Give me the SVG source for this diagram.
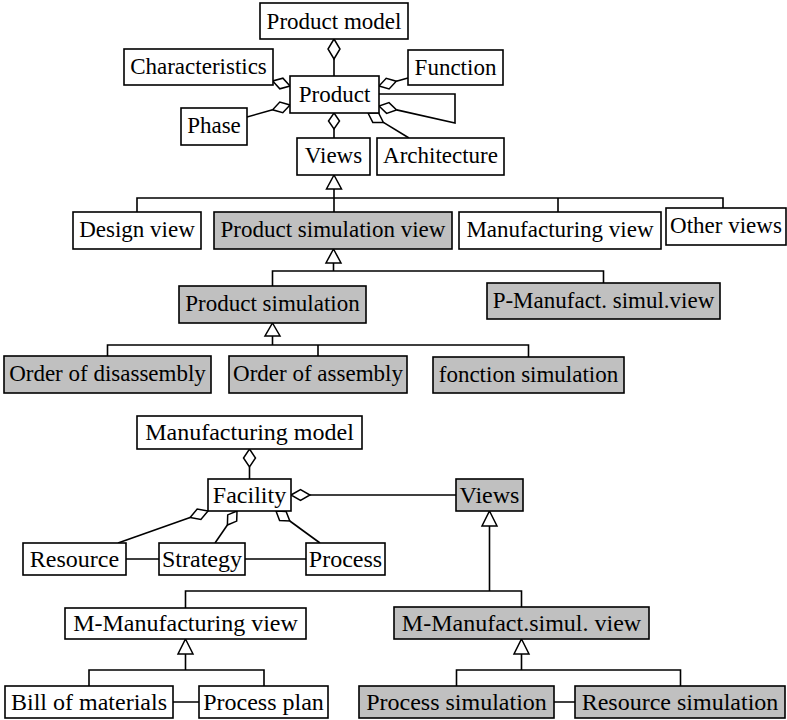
<svg xmlns="http://www.w3.org/2000/svg" width="787" height="720" viewBox="0 0 787 720">
<style>
.b{fill:#fff;stroke:#000;stroke-width:1.6}
.g{fill:#c0c0c0;stroke:#000;stroke-width:1.6}
.t{font-family:"Liberation Serif","Times New Roman",serif;font-size:23px;fill:#000;text-anchor:middle}
.t2{font-family:"Liberation Serif","Times New Roman",serif;font-size:24px;fill:#000;text-anchor:middle}
.l{fill:none;stroke:#000;stroke-width:1.6}
.d{fill:#fff;stroke:#000;stroke-width:1.5}
</style>
<rect width="787" height="720" fill="#fff"/>
<g id="connectors">
  <!-- top aggregation -->
  <path class="l" d="M334,59 V76"/>
  <polygon class="d" points="334,39 340,49 334,59 328,49"/>
  <polygon class="d" points="290,86 282.9,78.2 272.7,80.9 279.8,88.8"/>
  <path class="l" d="M272.6,109.8 L247,117"/>
  <polygon class="d" points="290,105 282.8,112.7 272.6,109.8 279.8,102.1"/>
  <path class="l" d="M396.3,81.2 L408,78"/>
  <polygon class="d" points="379,86 389.1,88.9 396.3,81.2 386.2,78.3"/>
  <path class="l" d="M379,94 H455 V123 L396.6,109.9"/>
  <polygon class="d" points="379,106 386.6,113.4 396.6,109.9 389,102.6"/>
  <path class="l" d="M383.4,122.4 L409,138"/>
  <polygon class="d" points="368,113 372.8,122.4 383.4,122.4 378.6,113"/>
  <path class="l" d="M334,129 V138"/>
  <polygon class="d" points="334,113 339.5,121 334,129 328.5,121"/>
  <!-- top generalization -->
  <path class="l" d="M334,189 V212 M137,212 V198 H723 V208 M558,198 V212"/>
  <polygon class="d" points="334,175 341.5,189 326.5,189"/>
  <path class="l" d="M333.5,263 V271 M272.5,286 V271 H603.5 V283"/>
  <polygon class="d" points="333.5,249 341,263 326,263"/>
  <path class="l" d="M272.5,336 V345 M107.5,356 V345 H528.5 V357 M318,345 V356"/>
  <polygon class="d" points="272.5,323 280,336 265,336"/>
  <!-- bottom aggregation -->
  <path class="l" d="M249.5,467 V479"/>
  <polygon class="d" points="249.5,449 255.5,458 249.5,467 243.5,458"/>
  <path class="l" d="M310,495 H456"/>
  <polygon class="d" points="291,495 300.5,489.5 310,495 300.5,500.5"/>
  <path class="l" d="M190.1,517.4 L118,543"/>
  <polygon class="d" points="208,511 200.9,519.4 190.1,517.4 197.2,509"/>
  <path class="l" d="M227.4,525 L215,543"/>
  <polygon class="d" points="237,511 236.7,521.1 227.4,525 227.7,514.9"/>
  <path class="l" d="M289.8,521 L320,543"/>
  <polygon class="d" points="276,511 279.6,520.5 289.8,521 286.1,511.5"/>
  <path class="l" d="M126,559 H159 M245,559 H306"/>
  <!-- bottom generalization -->
  <path class="l" d="M489.5,526 V591 M185.5,608 V591 H521.5 V607"/>
  <polygon class="d" points="489.5,511 497,526 482,526"/>
  <path class="l" d="M185.5,654 V670 M89,686 V670 H264 V686"/>
  <polygon class="d" points="185.5,639 193,654 178,654"/>
  <path class="l" d="M521.5,654 V670 M456.5,686 V670 H680.5 V686"/>
  <polygon class="d" points="521.5,639 529,654 514,654"/>
  <path class="l" d="M173,702 H199 M554,702 H575"/>
</g>
<g id="product-model"><rect class="b" x="260" y="3" width="148" height="36"/><text class="t" x="334" y="28.5">Product model</text></g>
<g id="characteristics"><rect class="b" x="124" y="49" width="149" height="36"/><text class="t" x="198.5" y="74">Characteristics</text></g>
<g id="function"><rect class="b" x="408" y="50" width="95" height="35"/><text class="t" x="455.5" y="74.5">Function</text></g>
<g id="product"><rect class="b" x="290" y="76" width="89" height="37"/><text class="t" x="334.5" y="101.5">Product</text></g>
<g id="phase"><rect class="b" x="181" y="108" width="66" height="37"/><text class="t" x="214" y="132.5">Phase</text></g>
<g id="views"><rect class="b" x="297" y="138" width="73" height="37"/><text class="t" x="333.5" y="162.5">Views</text></g>
<g id="architecture"><rect class="b" x="377" y="138" width="127" height="37"/><text class="t" x="440.5" y="162.5">Architecture</text></g>
<g id="design-view"><rect class="b" x="73" y="212" width="128" height="37"/><text class="t" x="137" y="237">Design view</text></g>
<g id="product-simulation-view"><rect class="g" x="214" y="212" width="238" height="37"/><text class="t" x="333" y="237">Product simulation view</text></g>
<g id="manufacturing-view"><rect class="b" x="459" y="212" width="202" height="37"/><text class="t" x="560" y="237">Manufacturing view</text></g>
<g id="other-views"><rect class="b" x="666" y="208" width="120" height="37"/><text class="t" x="726" y="233">Other views</text></g>
<g id="product-simulation"><rect class="g" x="179" y="286" width="187" height="37"/><text class="t" x="272.5" y="311">Product simulation</text></g>
<g id="p-manufact-simul-view"><rect class="g" x="487" y="283" width="233" height="36"/><text class="t" x="603.5" y="308">P-Manufact. simul.view</text></g>
<g id="order-of-disassembly"><rect class="g" x="4" y="356" width="207" height="37"/><text class="t" x="107.5" y="381">Order of disassembly</text></g>
<g id="order-of-assembly"><rect class="g" x="229" y="356" width="178" height="37"/><text class="t" x="318" y="381">Order of assembly</text></g>
<g id="fonction-simulation"><rect class="g" x="433" y="357" width="191" height="36"/><text class="t" x="528.5" y="381.5">fonction simulation</text></g>
<g id="manufacturing-model"><rect class="b" x="137" y="416" width="225" height="33"/><text class="t2" x="249.5" y="440">Manufacturing model</text></g>
<g id="facility"><rect class="b" x="208" y="479" width="83" height="32"/><text class="t2" x="249.5" y="503">Facility</text></g>
<g id="views-m"><rect class="g" x="456" y="479" width="67" height="32"/><text class="t2" x="489.5" y="503">Views</text></g>
<g id="resource"><rect class="b" x="23" y="543" width="103" height="32"/><text class="t2" x="74.5" y="567">Resource</text></g>
<g id="strategy"><rect class="b" x="159" y="543" width="86" height="32"/><text class="t2" x="202" y="567">Strategy</text></g>
<g id="process"><rect class="b" x="306" y="543" width="79" height="32"/><text class="t2" x="345.5" y="567">Process</text></g>
<g id="m-manufacturing-view"><rect class="b" x="65" y="608" width="241" height="31"/><text class="t2" x="185.5" y="631">M-Manufacturing view</text></g>
<g id="m-manufact-simul-view"><rect class="g" x="394" y="607" width="255" height="32"/><text class="t2" x="521.5" y="631">M-Manufact.simul. view</text></g>
<g id="bill-of-materials"><rect class="b" x="5" y="686" width="168" height="32"/><text class="t2" x="89" y="710">Bill of materials</text></g>
<g id="process-plan"><rect class="b" x="199" y="686" width="129" height="32"/><text class="t2" x="263.5" y="710">Process plan</text></g>
<g id="process-simulation"><rect class="g" x="359" y="686" width="195" height="32"/><text class="t2" x="456.5" y="710">Process simulation</text></g>
<g id="resource-simulation"><rect class="g" x="575" y="686" width="210" height="32"/><text class="t2" x="680" y="710">Resource simulation</text></g>
</svg>
